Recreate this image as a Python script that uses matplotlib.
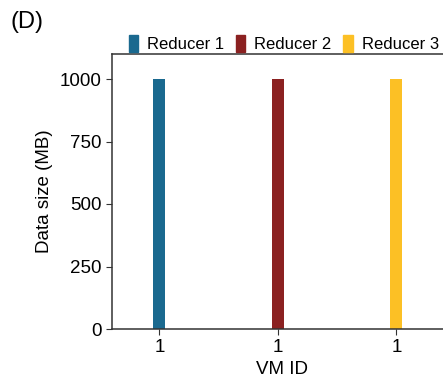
import matplotlib
matplotlib.use('Agg')
import matplotlib.pyplot as plt
from matplotlib.patches import Patch

plt.rcParams['font.family'] = ['Liberation Sans', 'DejaVu Sans']

reducers = ['Reducer 1', 'Reducer 2', 'Reducer 3']
vm_ids = ['1', '1', '1']
data_size = [1000, 1000, 1000]
colors = ['#1a698f', '#8b2121', '#fcc025']

fig = plt.figure(figsize=(4.43, 3.83), dpi=100)
ax = fig.add_axes([112 / 443, (383 - 329) / 383, 340 / 443, 275 / 383])

pos = list(range(len(reducers)))
ax.bar(pos, data_size, width=0.1, color=colors)
ax.set_xlim(-0.4, 2.47)
ax.set_ylim(0, 1100)
ax.set_yticks([0, 250, 500, 750, 1000])
ax.set_xticks(pos)
ax.set_xticklabels(vm_ids)
ax.tick_params(labelsize=13.5, length=4, color='#333333')
ax.set_xlabel('VM ID', fontsize=13.5, labelpad=3)
ax.set_ylabel('Data size (MB)', fontsize=13.5, labelpad=5)
for s in ax.spines.values():
    s.set_color('#333333')
    s.set_linewidth(1.1)

handles = [Patch(color=c, label=r) for c, r in zip(colors, reducers)]
ax.legend(handles=handles, loc='lower left', bbox_to_anchor=(0.045, 1.0), ncol=3,
          frameon=False, fontsize=12, handlelength=0.55, handleheight=1.2,
          handletextpad=0.55, columnspacing=0.7, borderaxespad=0.0, borderpad=0.1)

fig.text(10 / 443, 1 - 22 / 383, '(D)', fontsize=17, va='center', ha='left')

fig.savefig('out.png', dpi=100)
